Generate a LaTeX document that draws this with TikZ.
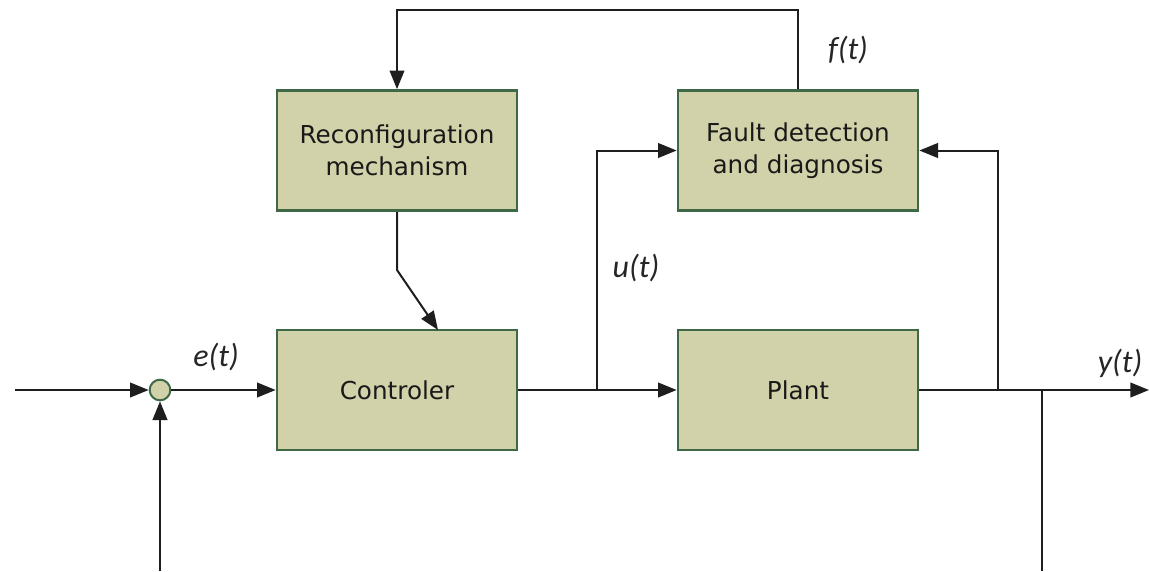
\documentclass[tikz,border=0pt]{standalone}
\usepackage{fontspec}
\setmainfont{DejaVu Sans}
\newfontfamily\labfont{Carlito}
\usetikzlibrary{arrows.meta,calc}
\definecolor{boxfill}{RGB}{210,210,170}
\definecolor{boxdraw}{RGB}{62,104,70}
\definecolor{linec}{RGB}{30,30,30}
\tikzset{
  blockbox/.style={draw=boxdraw, line width=2pt, fill=boxfill, minimum width=180pt, minimum height=90pt, inner sep=0pt, align=center, font=\fontsize{18.5}{24}\selectfont, text=black!90},
  sumnode/.style={circle, draw=boxdraw, line width=1.5pt, fill=boxfill, minimum size=15.5pt, inner sep=0pt},
  wire/.style={draw=linec, line width=1.5pt},
  arr/.style={wire, -{Triangle[length=14pt,width=11pt]}},
  siglab/.style={font=\labfont\itshape\fontsize{24}{28}\selectfont, text=black!85}
}
\begin{document}
\begin{tikzpicture}[x=0.75pt,y=-0.75pt]
\useasboundingbox (0,0) rectangle (1149,571);
\node[blockbox] (rec) at (397,150.5) {Reconfiguration\\mechanism};
\node[blockbox] (fdd) at (798,150.5) {Fault detection\\and diagnosis};
\node[blockbox] (ctl) at (397,390) {Controler};
\node[blockbox] (plant) at (798,390) {Plant};
\node[sumnode] (sum) at (160,390) {};
\coordinate (in) at (15,390);
\coordinate (fbl) at (160,571);
\coordinate (ubr) at (597,390);
\coordinate (ybr) at (998,390);
\coordinate (fbr) at (1042,390);
\coordinate (fbrb) at (1042,571);
\coordinate (out) at (1149,390);
\coordinate (ftop) at (798,10);
\coordinate (rtop) at (397,10);
\coordinate (kink) at (397,270);
\coordinate (ctltop) at (438,330);
\draw[arr] (in) -- (sum.west);
\draw[arr] (fbl) -- (sum.south);
\draw[arr] (sum.east) -- (ctl.west);
\draw[arr] (ctl.east) -- (plant.west);
\draw[arr] (ubr) |- (fdd.west);
\draw[arr] (plant.east) -- (out);
\draw[arr] (ybr) |- (fdd.east);
\draw[wire] (fbr) -- (fbrb);
\draw[arr] (fdd.north) -- (ftop) -- (rtop) -- (rec.north);
\draw[arr] (rec.south) -- (kink) -- (ctltop);
\node[siglab] (el) at (216,357) {e(t)};
\node[siglab] (ul) at (636,268) {u(t)};
\node[siglab] (fl) at (848,50) {f(t)};
\node[siglab] (yl) at (1120,363) {y(t)};
\end{tikzpicture}
\end{document}
